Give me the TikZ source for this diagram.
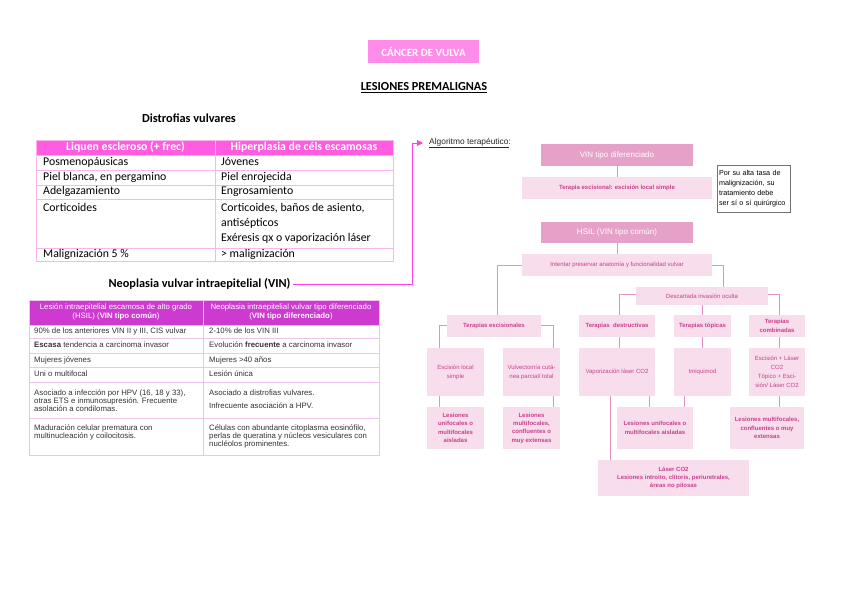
\documentclass[tikz,border=0pt]{standalone}
\usepackage{fontspec}
\setmainfont{Carlito}
\newfontfamily\arial{Liberation Sans}
\usetikzlibrary{arrows.meta,calc}
\definecolor{ttl}{HTML}{FF8CEA}
\definecolor{t1h}{HTML}{FF5CE1}
\definecolor{t1b}{HTML}{F9B6EE}
\definecolor{t2h}{HTML}{CC3ACF}
\definecolor{t2b}{HTML}{F0C2F0}
\definecolor{t2t}{HTML}{333333}
\definecolor{dk}{HTML}{E6A1C8}
\definecolor{lt}{HTML}{F8DDEC}
\definecolor{ftxt}{HTML}{C7408D}
\definecolor{cn}{HTML}{E592C0}
\definecolor{arr}{HTML}{FF40E0}
\tikzset{
 t1line/.style={draw=t1b, line width=0.8pt},
 t2line/.style={draw=t2b, line width=0.9pt},
 t1txt/.style={font=\fontsize{11.8}{14}\selectfont, inner sep=0, anchor=west, text height=8pt, text depth=2.5pt},
 t1hd/.style={font=\bfseries\fontsize{11.8}{14}\selectfont, text=white, inner sep=0},
 t2txt/.style={font=\arial\fontsize{7.8}{9}\selectfont, text=t2t, inner sep=0, anchor=west, text height=5.8pt, text depth=1.6pt},
 t2hd/.style={font=\arial\fontsize{7.8}{9}\selectfont, text=white, inner sep=0, align=center},
 heading/.style={font=\bfseries\fontsize{12.3}{14}\selectfont, inner sep=0},
 dkbox/.style={fill=dk, text=white, font=\arial\fontsize{8}{9.6}\selectfont, inner sep=0, align=center},
 ltbox/.style={fill=lt, text=ftxt, font=\arial\fontsize{6}{9}\selectfont, inner sep=0, align=center},
 ltbold/.style={ltbox, font=\arial\bfseries\fontsize{6}{8.3}\selectfont},
 conn/.style={draw=cn, line width=1pt},
 notebox/.style={draw=black!55, line width=0.8pt, fill=white, text width=69pt, inner xsep=2pt, inner ysep=0pt, minimum height=47pt, align=left, font=\arial\fontsize{7.2}{10.2}\selectfont},
}
\begin{document}
\begin{tikzpicture}[x=1pt,y=-1pt]
\useasboundingbox (0,0) rectangle (848,599);
\fill[white] (0,0) rectangle (848,599);

% ---------- titles
\node[fill=ttl, text=white, font=\bfseries\fontsize{11}{13}\selectfont, minimum width=111pt, minimum height=23pt, inner sep=0] (title) at (423.5,51.5) {CÁNCER DE VULVA};
\node[heading] (lesiones) at (424,88) {\underline{LESIONES PREMALIGNAS}};
\node[heading] (distro) at (189,118) {Distrofias vulvares};
\node[heading] (vinhead) at (199.5,284) {Neoplasia vulvar intraepitelial (VIN)};

% ---------- table 1
\fill[t1h] (36,140) rectangle (393,155);
\draw[t1line] (36,140) rectangle (393,261);
\foreach \yy in {155,170,185,199,248} \draw[t1line] (36,\yy) -- (393,\yy);
\draw[t1line] (215,140) -- (215,261);
\node[t1hd] (h1) at (125.5,147.5) {Liquen escleroso (+ frec)};
\node[t1hd] (h2) at (304,147.5) {Hiperplasia de céls escamosas};
\node[t1txt] (a1) at (43,162.5) {Posmenopáusicas};
\node[t1txt] (b1) at (221,162.5) {Jóvenes};
\node[t1txt] (a2) at (43,177.5) {Piel blanca, en pergamino};
\node[t1txt] (b2) at (221,177.5) {Piel enrojecida};
\node[t1txt] (a3) at (43,192) {Adelgazamiento};
\node[t1txt] (b3) at (221,192) {Engrosamiento};
\node[t1txt] (a4) at (43,208.5) {Corticoides};
\node[t1txt] (b4) at (221,208.5) {Corticoides, baños de asiento,};
\node[t1txt] (b4b) at (221,223.5) {antisépticos};
\node[t1txt] (b4c) at (221,238.5) {Exéresis qx o vaporización láser};
\node[t1txt] (a5) at (43,254.5) {Malignización 5 \%};
\node[t1txt] (b5) at (221,254.5) {> malignización};

% ---------- table 2
\fill[t2h] (29,300) rectangle (379,325);
\draw[t2line] (29,300) rectangle (379,455);
\foreach \yy in {325,338,353,367,382,418} \draw[t2line] (29,\yy) -- (379,\yy);
\draw[t2line] (203,300) -- (203,455);
\node[t2hd] (g1) at (116,311.5) {Lesión intraepitelial escamosa de alto grado\\(HSIL) (\textbf{VIN tipo común})};
\node[t2hd] (g2) at (291,311.5) {Neoplasia intraepitelial vulvar tipo diferenciado\\(\textbf{VIN tipo diferenciado})};
\node[t2txt] (c1) at (34,331.5) {90\% de los anteriores VIN II y III, CIS vulvar};
\node[t2txt] (d1) at (209,331.5) {2-10\% de los VIN III};
\node[t2txt] (c2) at (34,345.5) {\textbf{Escasa} tendencia a carcinoma invasor};
\node[t2txt] (d2) at (209,345.5) {Evolución \textbf{frecuente} a carcinoma invasor};
\node[t2txt] (c3) at (34,360) {Mujeres jóvenes};
\node[t2txt] (d3) at (209,360) {Mujeres >40 años};
\node[t2txt] (c4) at (34,374.5) {Uni o multifocal};
\node[t2txt] (d4) at (209,374.5) {Lesión única};
\node[t2txt] (c5) at (34,393.5) {Asociado a infección por HPV (16, 18 y 33),};
\node[t2txt] (c5b) at (34,401.5) {otras ETS e inmunosupresión. Frecuente};
\node[t2txt] (c5c) at (34,409.5) {asolación a condilomas.};
\node[t2txt] (d5) at (209,393.5) {Asociado a distrofias vulvares.};
\node[t2txt] (d5b) at (209,406.5) {Infrecuente asociación a HPV.};
\node[t2txt] (c6) at (34,428) {Maduración celular prematura con};
\node[t2txt] (c6b) at (34,436) {multinucleación y coilocitosis.};
\node[t2txt] (d6) at (209,428) {Células con abundante citoplasma eosinófilo,};
\node[t2txt] (d6b) at (209,436) {perlas de queratina y núcleos vesiculares con};
\node[t2txt] (d6c) at (209,444) {nucléolos prominentes.};

% ---------- algorithm heading and arrow
\node[font=\arial\fontsize{8.4}{10}\selectfont, text=black!85, inner sep=0, anchor=west] (alg) at (429,143) {\underline{Algoritmo terapéutico}:};
\coordinate (k1) at (412,284);
\coordinate (k2) at (412,143);
\draw[draw=arr, line width=0.8pt, -{Triangle[length=6pt,width=6pt]}] ([xshift=2pt]vinhead.east) -- (k1) -- (k2) -- ([xshift=-6pt]alg.west);

% ---------- flowchart
\node[dkbox, minimum width=152pt, minimum height=22pt] (vin) at (617,155) {VIN tipo diferenciado};
\node[ltbold, minimum width=190pt, minimum height=22pt] (tes) at (617,188) {Terapia escisional: escisión local simple};
\node[notebox] (note) at (753.5,188.5) {Por su alta tasa de\\malignización, su\\tratamiento debe\\ser sí o sí quirúrgico};
\node[dkbox, minimum width=152pt, minimum height=21pt] (hsil) at (617,232.5) {HSIL (VIN tipo común)};
\node[ltbox, minimum width=190pt, minimum height=22pt] (int) at (617,265) {Intentar preservar anatomía y funcionalidad vulvar};
\node[ltbox, minimum width=132pt, minimum height=18pt] (desc) at (702,296) {Descartada invasión oculta};
\node[ltbold, minimum width=94pt, minimum height=22pt] (escs) at (494,326) {Terapias escisionales};
\node[ltbold, minimum width=76pt, minimum height=22pt] (dest) at (617,326) {Terapias\ \ destructivas};
\node[ltbold, minimum width=57pt, minimum height=22pt] (topi) at (702.5,326) {Terapias tópicas};
\node[ltbold, minimum width=56pt, minimum height=22pt, font=\arial\bfseries\fontsize{6}{9}\selectfont] (comb) at (777,326) {Terapias\\combinadas};
\node[ltbox, minimum width=57pt, minimum height=48pt] (el) at (455.5,372) {Escisión local\\simple};
\node[ltbox, minimum width=57pt, minimum height=48pt] (vul) at (531.5,372) {Vulvectomía cutá-\\nea parcial/ total};
\node[ltbox, minimum width=76pt, minimum height=48pt] (vap) at (617,372) {Vaporización láser CO2};
\node[ltbox, minimum width=57pt, minimum height=48pt] (imi) at (702.5,372) {Imiquimod};
\node[ltbox, minimum width=56pt, minimum height=48pt] (cmb) at (777,372) {Escisión + Láser\\CO2\\Tópico + Esci-\\sión/ Láser CO2};
\node[ltbold, minimum width=57pt, minimum height=42pt] (l1) at (455.5,428) {Lesiones\\unifocales o\\multifocales\\aisladas};
\node[ltbold, minimum width=57pt, minimum height=42pt] (l2) at (531.5,428) {Lesiones\\multifocales,\\confluentes o\\muy extensas};
\node[ltbold, minimum width=76pt, minimum height=42pt] (l3) at (655,428) {Lesiones unifocales o\\multifocales aisladas};
\node[ltbold, minimum width=74pt, minimum height=42pt] (l4) at (767,428) {Lesiones multifocales,\\confluentes o muy\\extensas};
\node[ltbold, minimum width=151pt, minimum height=36pt] (laser) at (673.5,478) {Láser CO2\\Lesiones introito, clítoris, periuretrales,\\áreas no pilosas};

% connectors
\draw[conn] (vin.south) -- (tes.north);
\draw[conn] (hsil.south) -- (int.north);
\draw[conn] (int.west) -| ([xshift=3pt]escs.north);
\draw[conn] (int.east) -| ([xshift=21pt]desc.north);
\draw[conn] ([yshift=2pt]desc.west) -| ([xshift=2pt]dest.north);
\draw[conn] (topi.north |- desc.south) -- (topi.north);
\draw[conn] ([yshift=2pt]desc.east) -| ([xshift=2pt]comb.north);
\draw[conn] ([yshift=1pt]escs.west) -| ([xshift=-16.5pt]el.north);
\draw[conn] ([yshift=1pt]escs.east) -| ([xshift=21.5pt]vul.north);
\draw[conn] ([xshift=2pt]dest.south) -- ([xshift=2pt]vap.north);
\draw[conn] (topi.south) -- (imi.north);
\draw[conn] ([xshift=2pt]comb.south) -- ([xshift=2pt]cmb.north);
\draw[conn] ([xshift=-16.5pt]el.south) -- ([xshift=-16.5pt]l1.north);
\draw[conn] ([xshift=21.5pt]vul.south) -- ([xshift=21.5pt]l2.north);
\coordinate (v1) at ([xshift=-7pt]vap.south);
\draw[conn] (v1) -- (v1 |- laser.north);
\coordinate (v2) at ([xshift=32pt]vap.south);
\draw[conn] (v2) -- (v2 |- l3.north);
\coordinate (v3) at ([xshift=-18.5pt]imi.south);
\draw[conn] (v3) -- (v3 |- l3.north);
\coordinate (v4) at ([xshift=2pt]cmb.south);
\draw[conn] (v4) -- (v4 |- l4.north);
\end{tikzpicture}
\end{document}
